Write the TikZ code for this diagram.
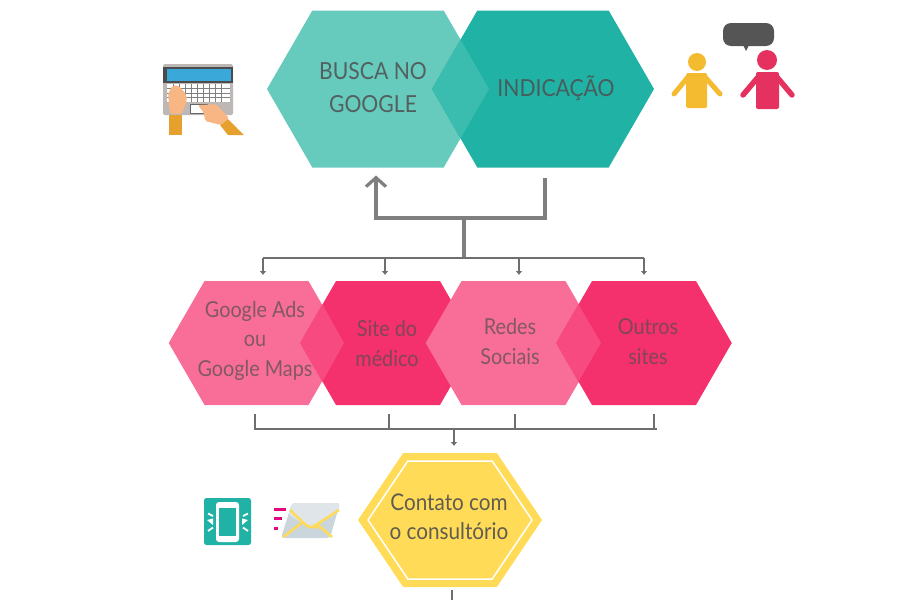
\documentclass[tikz,border=0pt]{standalone}
\usepackage{fontspec}
\setmainfont{Lato}[FakeStretch=0.9]
\usetikzlibrary{arrows.meta,shapes.symbols,positioning}

\definecolor{tealLight}{HTML}{66CABD}
\definecolor{tealDark}{HTML}{20B2A5}
\definecolor{tealLens}{HTML}{3ABCAE}
\definecolor{pinkLight}{HTML}{F96E98}
\definecolor{pinkDark}{HTML}{F4306D}
\definecolor{pinkLens}{HTML}{F74A80}
\definecolor{sunYellow}{HTML}{FFDB57}
\definecolor{wireGray}{HTML}{7F7F7F}
\definecolor{busGray}{HTML}{6E6E6E}
\definecolor{inkGray}{HTML}{4F4F4F}
\definecolor{bodyGray}{HTML}{BDB8B5}
\definecolor{screenBlue}{HTML}{3AA9DA}
\definecolor{sleeve}{HTML}{E5A02D}
\definecolor{skin}{HTML}{F7B684}
\definecolor{personYellow}{HTML}{F4BA30}
\definecolor{personRed}{HTML}{E5315F}
\definecolor{bubbleGray}{HTML}{555555}
\definecolor{mailTop}{HTML}{DFE5E8}
\definecolor{mailLow}{HTML}{CBD5DC}
\definecolor{mailDash}{HTML}{E0097F}

\begin{document}
\begin{tikzpicture}[
        x=1pt, y=-1pt,
        hexa/.style={shape=signal, signal to=east and west, signal pointer angle=120, inner sep=0pt, outer sep=0pt},
        tophex/.style={hexa, minimum width=222pt, minimum height=157pt},
        midhex/.style={hexa, minimum width=175.5pt, minimum height=124pt},
        toptext/.style={align=center, text=inkGray, text opacity=.85, font=\fontsize{23.5}{33}\selectfont},
        midtext/.style={align=center, text=inkGray, text opacity=.7, font=\fontsize{22}{29.5}\selectfont},
        bigwire/.style={draw=wireGray, line width=3.2pt},
        bus/.style={draw=busGray, line width=2.4pt},
        drop/.style={draw=busGray, line width=1.5pt, -{Latex[length=4pt,width=7pt]}}
    ]
    \useasboundingbox (0,0) rectangle (900,600);

    % Nodes
    \node (busca)[tophex, fill=tealLight] at (378,89) {};
    \node (indicacao)[tophex, fill=tealDark, right=-57pt of busca] {};
    \fill[tealLens] (432,89) -- (460.5,39.5) -- (489,89) -- (460.5,138.5) -- cycle;

    \node (ads)[midhex, fill=pinkLight] at (256.5,343) {};
    \node (site)[midhex, fill=pinkDark, right=-44pt of ads] {};
    \fill[pinkLens] (300,343) -- (322.5,304.5) -- (344,343) -- (322.5,381.5) -- cycle;
    \node (redes)[midhex, fill=pinkLight, right=-50pt of site] {};
    \node (outros)[midhex, fill=pinkDark, right=-45pt of redes] {};
    \fill[pinkLens] (556,343) -- (578.5,304.5) -- (601,343) -- (578.5,381.5) -- cycle;

    \node (contato)[hexa, fill=sunYellow, signal pointer angle=112, minimum width=184pt, minimum height=134pt] at (450,520) {};
    \node (contatoIn)[hexa, draw=white, line width=1.5pt, signal pointer angle=112, minimum width=164pt, minimum height=118pt] at (450,520) {};

    % Texts
    \node (buscaText)[toptext] at (373,88) {BUSCA NO\\GOOGLE};
    \node (indicacaoText)[toptext] at (556,88) {INDICAÇÃO};
    \node (adsText)[midtext] at (255,340.5) {Google Ads\\ou\\Google Maps};
    \node (siteText)[midtext] at (387,343.5) {Site do\\médico};
    \node (redesText)[midtext] at (510,341.5) {Redes\\Sociais};
    \node (outrosText)[midtext] at (648,341.5) {Outros\\sites};
    \node (contatoText)[midtext, text opacity=.9, font=\fontsize{23}{28.5}\selectfont] at (449,517) {Contato com\\o consultório};

    % Edges
    \coordinate (topFrom) at (545,178);
    \coordinate (topTo) at (376,175.5);
    \coordinate (topJoin) at (464,218);
    \coordinate (busIn) at (464,258);
    \draw[bigwire, -{Straight Barb[length=9pt,width=20pt]}] (topFrom) |- (topJoin) -| (topTo);
    \draw[bigwire] (topJoin) -- (busIn);

    \draw[bus] (263,258) -- (644,258);
    \draw[drop] (263,258) -- (263,275);
    \draw[drop] (385,258) -- (385,275);
    \draw[drop] (519,258) -- (519,275);
    \draw[drop] (644,258) -- (644,275);

    \coordinate (busOut) at (454,429);
    \draw[bus] (254,429) -- (657,429);
    \draw[drop, -] (255,414) -- (255,429);
    \draw[drop, -] (389,414) -- (389,429);
    \draw[drop, -] (515,414) -- (515,429);
    \draw[drop, -] (654,414) -- (654,429);
    \draw[drop] (busOut) -- (454,446);
    \coordinate (exit) at (452,590);
    \coordinate (pageEnd) at (452,600);
    \draw[drop, -] (exit) -- (pageEnd);

    % Laptop
    \fill[bodyGray, rounded corners=1.5pt] (163,64) rectangle (233,115);
    \fill[black!70] (163,67) rectangle (233,83);
    \fill[screenBlue] (166.5,69) rectangle (231,81);
    \fill[white] (167,84) rectangle (230,102);
    \foreach \col in {173,179,185,191,197,203,209,215,221}
        \draw[gray, line width=.5pt] (\col,84) -- (\col,102);
    \foreach \row in {88.5,93,97.5}
        \draw[gray, line width=.5pt] (167,\row) -- (230,\row);
    \draw[fill=white, draw=black!60, line width=.7pt] (190,104) rectangle (207,113);
    \fill[sleeve] (169,115) rectangle (182,135);
    \fill[sleeve] (220,125) -- (228,119) -- (244,135) -- (228,135) -- cycle;
    \fill[skin, rounded corners=3pt] (168,94) -- (172,86) -- (178,85) -- (186,94) -- (187,100) -- (182,114) -- (170,114) -- cycle;
    \fill[skin, rounded corners=2pt] (198,105) -- (203,105) -- (216,104) -- (229,118) -- (221,125) -- (205,121) -- (204,113) -- cycle;

    % People
    \fill[personYellow] (697,62) circle (9);
    \fill[personYellow, rounded corners=1.5pt] (686,73) rectangle (707,108);
    \draw[personYellow, line width=5pt, line cap=round] (688,77) -- (674,94);
    \draw[personYellow, line width=5pt, line cap=round] (705,77) -- (720,94);
    \fill[personRed] (767,60) circle (10);
    \fill[personRed, rounded corners=2pt] (756,72) rectangle (779,109);
    \draw[personRed, line width=5.5pt, line cap=round] (759,76) -- (743,95);
    \draw[personRed, line width=5.5pt, line cap=round] (776,76) -- (792,95);
    \fill[bubbleGray, rounded corners=8pt] (723,23) rectangle (774,46);
    \fill[bubbleGray] (743,45) -- (746,51) -- (749,45) -- cycle;

    % Phone
    \fill[tealDark, rounded corners=2.5pt] (204,498) rectangle (251,545);
    \fill[white, rounded corners=3pt] (216,502) rectangle (239,542);
    \fill[tealDark] (219,508) rectangle (236,536);
    \foreach \ya/\yb in {513.5/516, 531/527.5} {
        \draw[white, line width=1.8pt] (208,\ya) -- (213,\yb);
        \draw[white, line width=1.8pt] (248,\ya) -- (243,\yb);
    }
    \fill[white] (207,520) -- (213,518.5) -- (213,525) -- cycle;
    \fill[white] (248,520) -- (242,518.5) -- (242,525) -- cycle;

    % Envelope
    \fill[mailLow, rounded corners=3pt] (292,503) -- (340,503) -- (330,538) -- (281,538) -- cycle;
    \fill[mailTop, rounded corners=3pt] (292,503) -- (340,503) -- (338,511) -- (310,528) -- (288,514) -- cycle;
    \draw[sunYellow, line width=2.5pt, rounded corners=3pt] (290,510) -- (308,527) -- (313,527) -- (339,510);
    \draw[sunYellow, line width=2.5pt] (283,537) -- (303,522);
    \draw[sunYellow, line width=2.5pt] (332,537) -- (318,525);
    \draw[mailDash, line width=3pt] (274,509) -- (286,509);
    \draw[mailDash, line width=3pt] (274,518) -- (282,518);
    \draw[mailDash, line width=3pt] (274,528) -- (278,528);
\end{tikzpicture}
\end{document}
